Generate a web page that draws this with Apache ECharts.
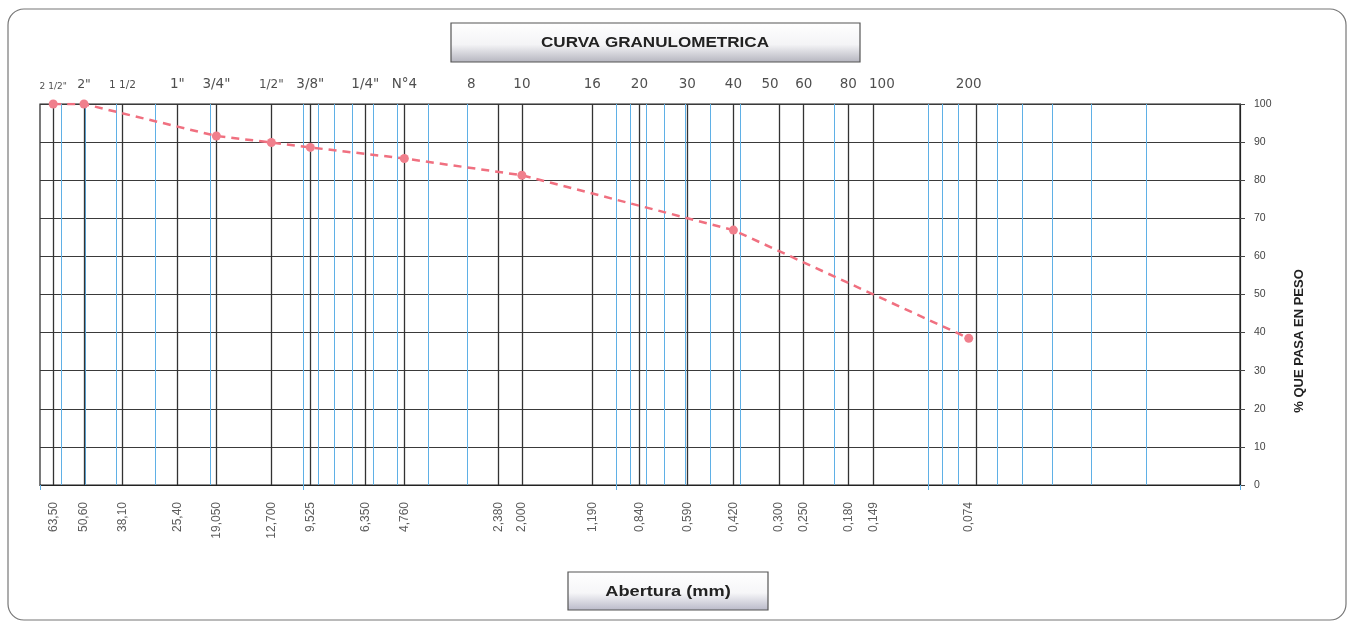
<!DOCTYPE html>
<html>
<head>
<meta charset="utf-8">
<script src="https://cdn.jsdelivr.net/npm/echarts@6/dist/echarts.min.js"></script>
<style>
html,body{margin:0;padding:0;background:#fff;}
#chart{width:1356px;height:628px;}
</style>
</head>
<body>
<div id="chart"></div>
<script>
// ---- data ----
const sieveMM = [63.5, 50.6, 38.1, 25.4, 19.05, 12.7, 9.525, 6.35, 4.76, 2.38, 2.0, 1.19, 0.84, 0.59, 0.42, 0.30, 0.25, 0.18, 0.149, 0.074];
const sieveNames = ['2 1/2"', '2"', '1 1/2', '1"', '3/4"', '1/2"', '3/8"', '1/4"', 'N°4', '8', '10', '16', '20', '30', '40', '50', '60', '80', '100', '200'];
const sieveMMLabels = ['63,50', '50,60', '38,10', '25,40', '19,050', '12,700', '9,525', '6,350', '4,760', '2,380', '2,000', '1,190', '0,840', '0,590', '0,420', '0,300', '0,250', '0,180', '0,149', '0,074'];
const logGridValues = [60, 50, 40, 30, 20, 10, 9, 8, 7, 6, 5, 4, 3, 2, 1, 0.9, 0.8, 0.7, 0.6, 0.5, 0.4, 0.3, 0.2, 0.1, 0.09, 0.08, 0.07, 0.06, 0.05, 0.04, 0.03, 0.02];
const testSizes = [63.5, 50.6, 19.05, 12.7, 9.525, 4.76, 2.0, 0.42, 0.074];
const percentPassing = [100, 100, 91.6, 89.9, 88.6, 85.7, 81.3, 66.9, 38.5];
const yTicks = [0, 10, 20, 30, 40, 50, 60, 70, 80, 90, 100];

// ---- styling (not data) ----
const smallNameSize = {'2 1/2"': 9, '1 1/2': 10.5, '1/2"': 12, '2"': 12.5};
const nameShift = {'8': -27, '50': -9, '100': 8};

const chart = echarts.init(document.getElementById('chart'), null, {renderer: 'canvas'});
const FONT = 'Liberation Sans, Arial, sans-serif';
const WFONT = 'DejaVu Sans, Liberation Sans, sans-serif';

const option = {
  animation: false,
  backgroundColor: '#ffffff',
  grid: {left: 40, right: 116, top: 104, bottom: 143, show: true, borderColor: '#222', borderWidth: 1.2, backgroundColor: '#fff'},
  xAxis: {
    type: 'log', logBase: 10, min: 0.01, max: 70, inverse: true,
    axisLine: {show: true, lineStyle: {color: '#222', width: 1.2}},
    axisTick: {show: true, length: 5, lineStyle: {color: '#5fb0e6'}},
    axisLabel: {show: false},
    splitLine: {show: false}
  },
  yAxis: {
    type: 'value', position: 'right', min: 0, max: 100, interval: 10,
    axisLine: {show: true, lineStyle: {color: '#222', width: 1.2}},
    axisTick: {show: true, length: 5, lineStyle: {color: '#444'}},
    axisLabel: {color: '#444', fontSize: 10.5, fontFamily: FONT, margin: 14,
      formatter: v => yTicks.includes(v) ? String(v) : ''},
    splitLine: {show: true, lineStyle: {color: '#3a3a3a', width: 1}}
  },
  graphic: [
    {type: 'rect', shape: {x: 8, y: 9, width: 1338, height: 611, r: 16}, style: {fill: 'none', stroke: '#777', lineWidth: 1.2}, z: -10, silent: true},
    {type: 'rect', shape: {x: 451, y: 23, width: 409, height: 39},
      style: {fill: new echarts.graphic.LinearGradient(0, 0, 0, 1, [{offset: 0, color: '#ffffff'}, {offset: 0.55, color: '#f4f4f6'}, {offset: 1, color: '#b4b4be'}]), stroke: '#555', lineWidth: 1.2}, z: 10},
    {type: 'text', x: 655, y: 43, scaleX: 1.22, style: {text: 'CURVA GRANULOMETRICA', font: 'bold 14px ' + FONT, fill: '#222', textAlign: 'center', textVerticalAlign: 'middle'}, z: 11},
    {type: 'rect', shape: {x: 568, y: 572, width: 200, height: 38},
      style: {fill: new echarts.graphic.LinearGradient(0, 0, 0, 1, [{offset: 0, color: '#ffffff'}, {offset: 0.55, color: '#f6f6f8'}, {offset: 1, color: '#b8b8c8'}]), stroke: '#555', lineWidth: 1.2}, z: 10},
    {type: 'text', x: 668, y: 592, scaleX: 1.3, style: {text: 'Abertura (mm)', font: 'bold 14px ' + FONT, fill: '#222', textAlign: 'center', textVerticalAlign: 'middle'}, z: 11},
    {type: 'text', x: 1299, y: 341, rotation: Math.PI / 2, style: {text: '% QUE PASA EN PESO', font: 'bold 13px ' + FONT, fill: '#222', textAlign: 'center', textVerticalAlign: 'middle'}, z: 11}
  ],
  series: [
    {
      type: 'line', data: [], silent: true, z: 1,
      markLine: {silent: true, symbol: ['none', 'none'], label: {show: false},
        lineStyle: {color: '#5fb0e6', width: 1, type: 'solid'},
        data: logGridValues.map(v => ({xAxis: v}))}
    },
    {
      type: 'line', data: [], silent: true, z: 2,
      markLine: {silent: true, symbol: ['none', 'none'], label: {show: false},
        lineStyle: {color: '#333', width: 1.3, type: 'solid'},
        data: sieveMM.map(v => ({xAxis: v}))}
    },
    {
      type: 'scatter', silent: true, symbolSize: 0, z: 3,
      data: sieveMM.map((v, i) => ({
        value: [v, 100], name: sieveNames[i],
        label: {fontSize: smallNameSize[sieveNames[i]] || 13.5, offset: [nameShift[sieveNames[i]] || 0, 0]}
      })),
      label: {show: true, position: 'top', distance: 13, formatter: p => p.name, color: '#222', fontFamily: WFONT}
    },
    {
      type: 'scatter', silent: true, symbolSize: 0, z: 3,
      data: sieveMM.map((v, i) => ({value: [v, 0], name: sieveMMLabels[i]})),
      label: {show: true, position: 'bottom', distance: 17, rotate: 90, align: 'right', verticalAlign: 'middle',
        formatter: p => p.name, color: '#333', fontSize: 12, fontFamily: FONT}
    },
    {
      type: 'line', z: 5,
      data: testSizes.map((v, i) => [v, percentPassing[i]]),
      symbol: 'circle', symbolSize: 9,
      itemStyle: {color: '#f07f8c'},
      lineStyle: {color: '#f07080', width: 2.5, type: [8, 6]}
    }
  ]
};
chart.setOption(option);
</script>
</body>
</html>
